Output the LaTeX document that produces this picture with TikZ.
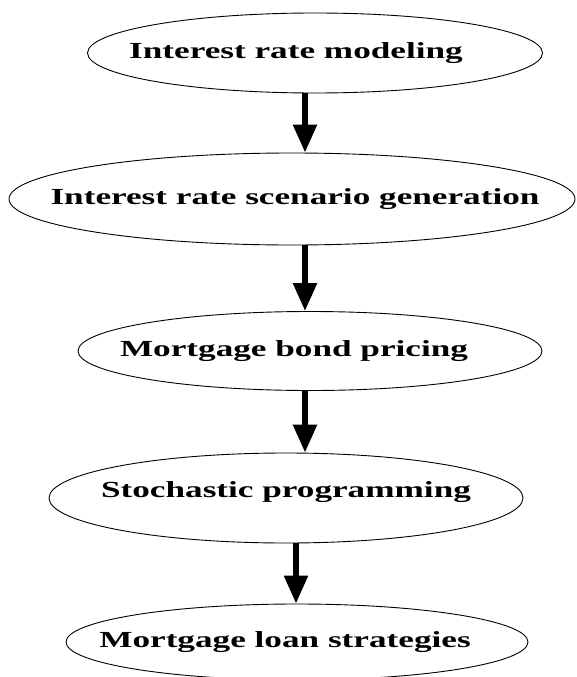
\documentclass[tikz,border=0pt]{standalone}
\usepackage{fontspec}
\newfontfamily\lblfont{Liberation Serif}[FakeStretch=1.53]
\usetikzlibrary{shapes}
\usetikzlibrary{arrows.meta}
\tikzset{%
  stage/.style = {draw, ellipse, line width=0.9pt, inner sep=0pt},
  lbl/.style   = {font=\lblfont\bfseries\fontsize{23}{27}\selectfont, inner sep=0pt},
  flow/.style  = {line width=5.5pt, -{Triangle[length=28pt, width=23pt]}}
}
\begin{document}
\begin{tikzpicture}[x=1pt, y=-1pt]
        \useasboundingbox (0,0) rectangle (577,677);
        \draw
        node at(315,53)[stage, name=RateModel, minimum width=455pt, minimum height=80pt,
          label={[lbl, xshift=-19pt]center:Interest rate modeling}]{}
        node at(292,199)[stage, name=RateScen, minimum width=566pt, minimum height=92pt,
          label={[lbl, xshift=3pt]center:Interest rate scenario generation}]{}
        node at(310,351)[stage, name=BondPrice, minimum width=464pt, minimum height=79pt,
          label={[lbl, xshift=-16pt]center:Mortgage bond pricing}]{}
        node at(286,498)[stage, name=StochProg, minimum width=474pt, minimum height=90pt,
          label={[lbl, yshift=6pt]center:Stochastic programming}]{}
        node at(297,642)[stage, name=LoanStrat, minimum width=462pt, minimum height=76pt,
          label={[lbl, xshift=-12pt]center:Mortgage loan strategies}]{};
        \draw[flow]([xshift=-10pt]RateModel.south) -- ([xshift=-10pt]RateModel.south |- RateScen.north);
        \draw[flow]([xshift=13pt]RateScen.south) -- ([xshift=13pt]RateScen.south |- BondPrice.north);
        \draw[flow]([xshift=-5pt]BondPrice.south) -- ([xshift=-5pt]BondPrice.south |- StochProg.north);
        \draw[flow]([xshift=10pt]StochProg.south) -- ([xshift=10pt]StochProg.south |- LoanStrat.north);
    \end{tikzpicture}
\end{document}
